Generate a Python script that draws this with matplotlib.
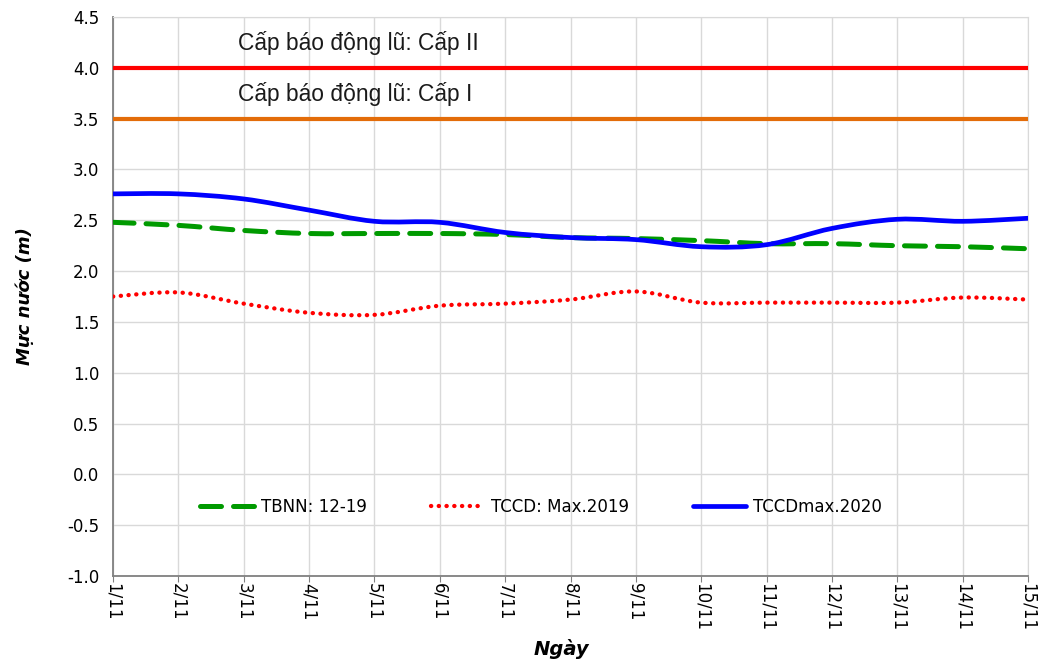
"""
Muc nuoc 1/11 - 15/11: TBNN, TCCD 2019, TCCD 2020
"""

import numpy as np
import matplotlib
matplotlib.use('Agg')
from matplotlib import pyplot as plt
from matplotlib.path import Path
from matplotlib.patches import PathPatch
from matplotlib.lines import Line2D


days = ['1/11', '2/11', '3/11', '4/11', '5/11', '6/11', '7/11', '8/11',
        '9/11', '10/11', '11/11', '12/11', '13/11', '14/11', '15/11']
tbnn = [2.48, 2.45, 2.40, 2.37, 2.37, 2.37, 2.36, 2.33, 2.32, 2.30,
        2.27, 2.27, 2.25, 2.24, 2.22]
tccd_2019 = [1.75, 1.79, 1.68, 1.59, 1.57, 1.66, 1.68, 1.72, 1.80, 1.69,
             1.69, 1.69, 1.69, 1.74, 1.72]
tccd_2020 = [2.76, 2.76, 2.71, 2.60, 2.49, 2.48, 2.38, 2.33, 2.31, 2.24,
             2.26, 2.42, 2.51, 2.49, 2.52]
alarm_levels = [4.0, 3.5]
alarm_labels = ['Cấp báo động lũ: Cấp II', 'Cấp báo động lũ: Cấp I']
alarm_colors = ['#FF0000', '#E36C09']


def smooth_path(xs, ys):
    # excel-like smoothed line: catmull-rom as cubic bezier
    pts = np.column_stack([xs, ys]).astype(float)
    ext = np.vstack([pts[0], pts, pts[-1]])
    verts = [pts[0]]
    codes = [Path.MOVETO]
    for i in range(len(pts) - 1):
        p0, p1, p2, p3 = ext[i], ext[i + 1], ext[i + 2], ext[i + 3]
        verts += [p1 + (p2 - p0) / 6, p2 - (p3 - p1) / 6, p2]
        codes += [Path.CURVE4] * 3
    return Path(verts, codes)


fig = plt.figure(figsize=(10.41, 6.65), dpi=100)
ax = fig.add_axes([0.1086, 0.1338, 0.8789, 0.8406])

x = np.arange(1, len(days) + 1)

for lvl, col in zip(alarm_levels, alarm_colors):
    ax.axhline(lvl, color=col, lw=3.0, zorder=3)
for lvl, lab in zip(alarm_levels, alarm_labels):
    ax.text(0.137, lvl + 0.245, lab, transform=ax.get_yaxis_transform(),
            fontsize=16.4, family='Liberation Sans', va='center', ha='left',
            color='#1a1a1a')

series = [
    (tbnn, 'TBNN: 12-19', dict(color='#009A00', lw=3.6, linestyle=(0, (4.2, 2.4)), capstyle='round')),
    (tccd_2019, 'TCCD: Max.2019', dict(color='#FF0000', lw=3.1, linestyle=(0, (0.05, 1.75)), capstyle='round')),
    (tccd_2020, 'TCCDmax.2020', dict(color='#0000FF', lw=3.4, linestyle='-', capstyle='round')),
]
handles = []
for ys, lab, st in series:
    patch = PathPatch(smooth_path(x, ys), facecolor='none', edgecolor=st['color'],
                      lw=st['lw'], linestyle=st['linestyle'], capstyle=st['capstyle'],
                      zorder=4)
    ax.add_patch(patch)
    handles.append(Line2D([], [], color=st['color'], lw=st['lw'],
                          linestyle=st['linestyle'], dash_capstyle=st['capstyle'],
                          solid_capstyle='round', label=lab))

ax.set_xlim(1, 15)
ax.set_ylim(-1.0, 4.5)
ax.set_xticks(x)
ax.set_xticklabels(days, rotation=-90, fontsize=12)
ax.set_yticks(np.arange(-1.0, 4.51, 0.5))
ax.set_yticklabels(['%.1f' % v for v in np.arange(-1.0, 4.51, 0.5)], fontsize=12)
ax.tick_params(axis='y', length=0, pad=10)
ax.tick_params(axis='x', length=4, color='#808080', pad=1)
ax.grid(True, color='#D9D9D9', lw=1.0)
ax.set_axisbelow(True)
for s in ['left', 'bottom']:
    ax.spines[s].set_color('#808080')
    ax.spines[s].set_linewidth(1.3)
for s in ['top', 'right']:
    ax.spines[s].set_color('#D9D9D9')

ax.set_ylabel('Mực nước (m)', fontsize=13, fontweight='bold', style='italic', labelpad=24)
ax.set_xlabel('Ngày', fontsize=14, fontweight='bold', style='italic', labelpad=6)
ax.xaxis.set_label_coords(0.49, -0.112)

ax.legend(handles=handles, loc='lower center', bbox_to_anchor=(0.468, 0.08), ncol=3,
          frameon=False, fontsize=12, handlelength=3.2, columnspacing=3.85,
          handletextpad=0.42)

fig.savefig('out.png', dpi=100)
